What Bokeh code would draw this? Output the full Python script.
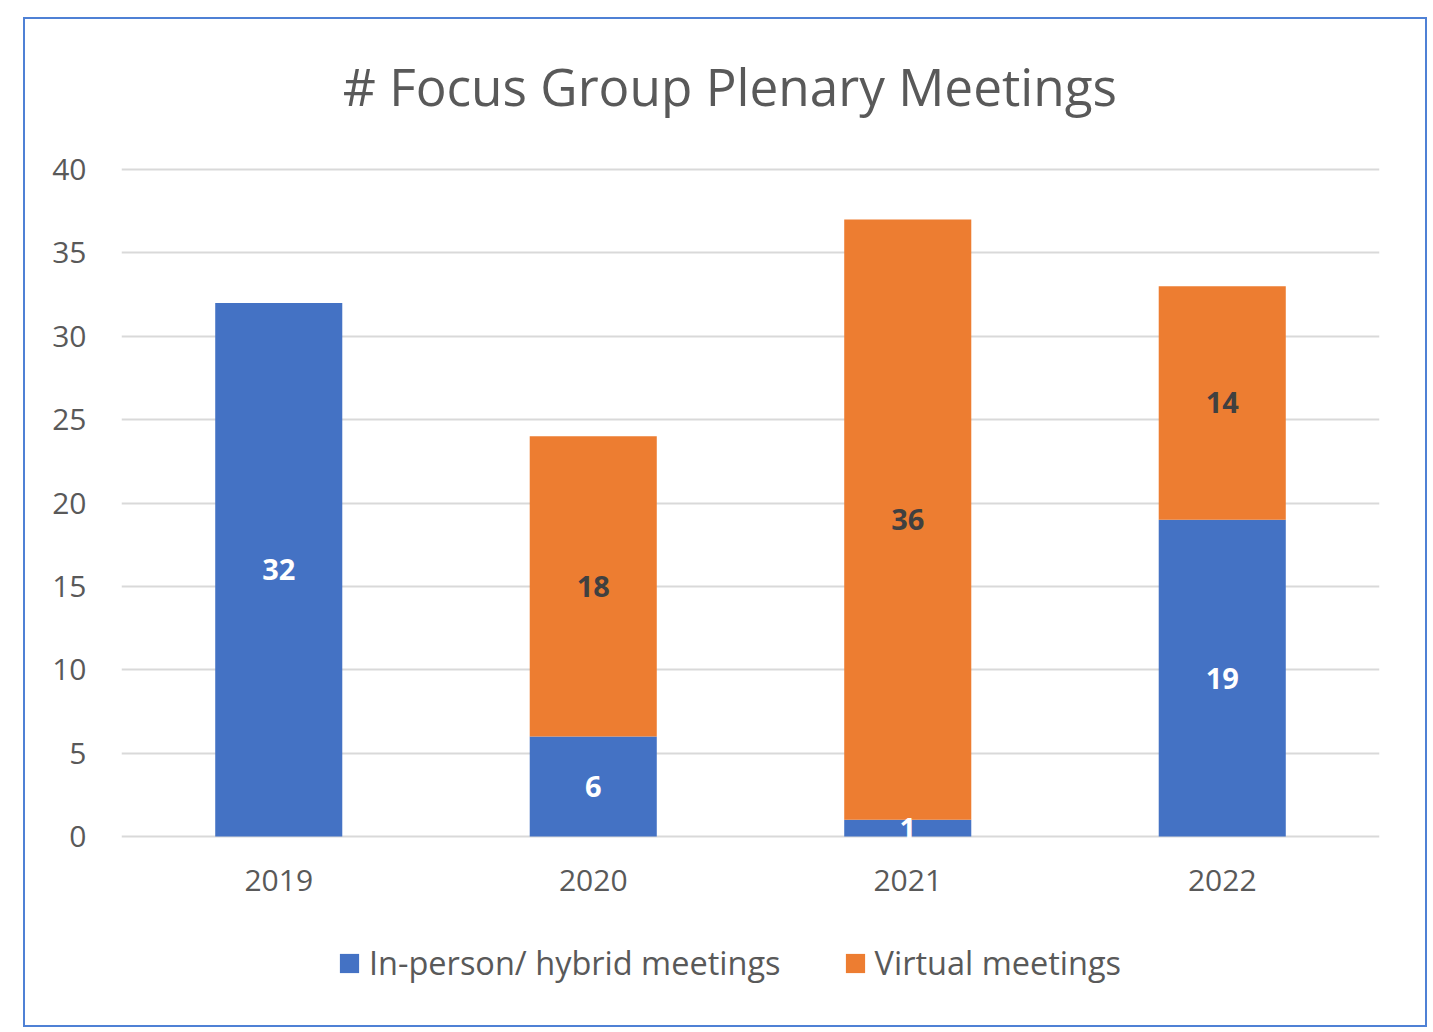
from bokeh.plotting import figure
from bokeh.models import FactorRange, Range1d, ColumnDataSource
from bokeh.core.properties import value
from bokeh.embed import file_html
from bokeh.resources import INLINE

# ---- data ----
years = ["2019", "2020", "2021", "2022"]
in_person = [32, 6, 1, 19]
virtual = [0, 18, 36, 14]
series_names = ["In-person/ hybrid meetings", "Virtual meetings"]
title_text = "# Focus Group Plenary Meetings"
y_ticks = [0, 5, 10, 15, 20, 25, 30, 35, 40]

BLUE = "#4472C4"
ORANGE = "#ED7D31"
GREY = "#595959"
FONT = "Open Sans"

# ---- layout (page pixels) ----
W, H = 1404, 1010
ML, MT = 23, 17                  # page offset of the chart border
CX0, CY0 = ML + 2, MT + 2        # canvas origin
CX1, CY1 = CX0 + W, CY0 + H
FL, FR, FT, FB = 121, 1379, 30, 1003   # plotting frame (includes title/legend room)
Y0_PX, Y40_PX = 836, 169               # where 0 and 40 sit
PX = (Y0_PX - Y40_PX) / 40.0
y_top = 40 + (Y40_PX - FT) / PX
y_bot = -(FB - Y0_PX) / PX

p = figure(x_range=FactorRange(*years, range_padding=0), y_range=Range1d(y_bot, y_top),
           width=W, height=H, output_backend="svg", toolbar_location=None,
           min_border_left=FL - CX0, min_border_right=CX1 - FR,
           min_border_top=FT - CY0, min_border_bottom=CY1 - FB)
p.margin = (MT, 0, 0, ML)
p.styles = {"border": "2px solid #4F81D5", "box-sizing": "border-box"}
p.outline_line_color = None
p.background_fill_color = "white"
p.border_fill_color = "white"

src = ColumnDataSource(dict(year=years, inp=in_person, vir=virtual))
p.vbar_stack(["inp", "vir"], x="year", width=0.404, source=src,
             color=[BLUE, ORANGE], line_color=None, legend_label=series_names)

# data labels
lx, ly, lt, lc = [], [], [], []
for yr, a, b in zip(years, in_person, virtual):
    if a:
        lx.append(yr); ly.append(a / 2); lt.append(str(a)); lc.append("white")
    if b:
        lx.append(yr); ly.append(a + b / 2); lt.append(str(b)); lc.append("#404040")
lsrc = ColumnDataSource(dict(x=lx, y=ly, t=lt, c=lc))
p.text(x="x", y="y", text="t", text_color="c", source=lsrc, text_align="center",
       text_baseline="middle", text_font=value(FONT), text_font_style="bold",
       text_font_size="29px")

# category labels (drawn under the zero line)
ysrc = ColumnDataSource(dict(x=years, y=[0] * len(years), t=years))
p.text(x="x", y="y", text="t", source=ysrc, text_align="center",
       text_baseline="alphabetic", y_offset=44, text_font=value(FONT),
       text_font_size="30px", text_color=GREY)

# chart title (above the 40 line)
tsrc = ColumnDataSource(dict(x=[years[0]], y=[y_ticks[-1]], t=[title_text]))
p.text(x="x", y="y", text="t", source=tsrc, text_align="left", text_baseline="middle",
       x_offset=64, y_offset=-84, text_font=value(FONT), text_font_size="51.3px",
       text_color=GREY)

# axes
p.xaxis.visible = False
p.yaxis.ticker = y_ticks
p.yaxis.axis_line_color = None
p.yaxis.major_tick_line_color = None
p.yaxis.minor_tick_line_color = None
p.yaxis.major_label_standoff = 29
p.yaxis.major_label_text_font = FONT
p.yaxis.major_label_text_font_size = "30px"
p.yaxis.major_label_text_color = GREY

p.xgrid.grid_line_color = None
p.ygrid.ticker = y_ticks
p.ygrid.grid_line_color = "#D9D9D9"
p.ygrid.grid_line_width = 2

# legend
lg = p.legend[0]
lg.orientation = "horizontal"
lg.location = (337 - FL, FB - 985)
lg.padding = 0
lg.margin = 0
lg.spacing = 62
lg.glyph_width = 24
lg.glyph_height = 24
lg.label_standoff = 8
lg.label_text_font = FONT
lg.label_text_font_size = "32.5px"
lg.label_text_color = GREY
lg.border_line_color = None
lg.background_fill_alpha = 0

open("out.html", "w").write(file_html(p, INLINE))
